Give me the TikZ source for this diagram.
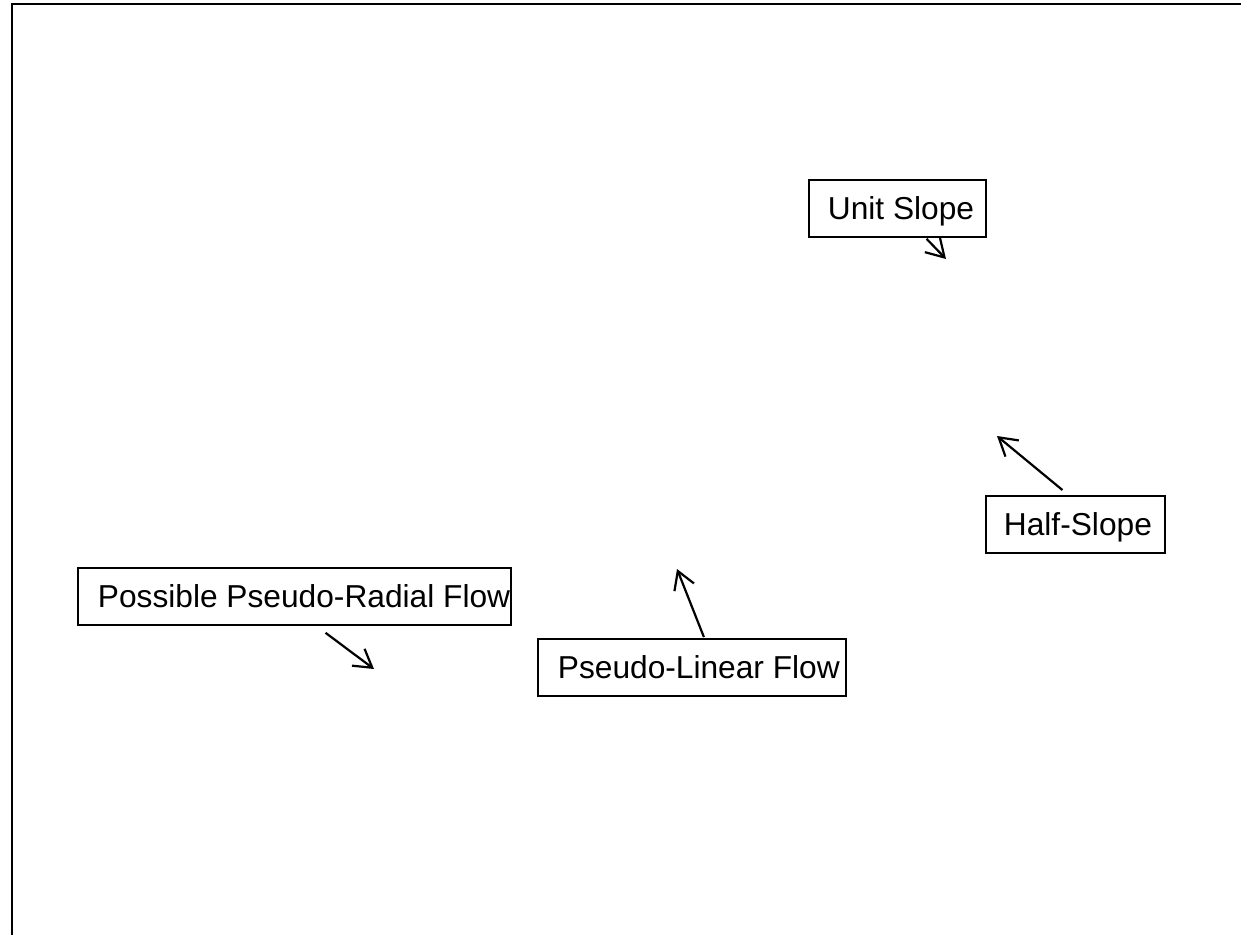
\documentclass[tikz,border=0pt]{standalone}
\usepackage{fontspec}
\setmainfont{Liberation Sans}
\usepackage{tikz}
\usetikzlibrary{arrows.meta}
\usetikzlibrary{positioning}
\tikzset{
	labelbox/.style={rectangle, draw=black, line width=1.8pt, anchor=north west, inner xsep=0pt, inner ysep=0pt, minimum height=57pt, text height=22.7pt, text depth=0pt, font=\fontsize{31.7}{38}\selectfont},
	flowarrow/.style={-{Straight Barb[length=17.5pt, width=21pt, line width=2.2pt]}, line width=2.2pt}
}

\begin{document}
\begin{tikzpicture}[x=1pt, y=-1pt]
		\useasboundingbox (0,0) rectangle (1241,935);
		\draw[line width=2.5pt] (12,935) -- (12,4) -- (1241,4);
		\node[labelbox] at (808,179) (unit)   {\hspace*{19pt}Unit Slope\hspace*{12pt}};
		\node[labelbox] at (985,495) (half)   {\hspace*{18pt}Half-Slope\hspace*{13pt}};
		\node[labelbox] at (77,567)  (radial) {\hspace*{20pt}Possible Pseudo-Radial Flow\hspace*{1pt}};
		\node[labelbox] at (537,638) (linear) {\hspace*{20pt}Pseudo-Linear Flow\hspace*{6pt}};
		\coordinate (unittip)   at (946,259);
		\coordinate (halftip)   at (997,436);
		\coordinate (radialtip) at (374,669);
		\coordinate (lineartip) at (677,569);
		\draw[flowarrow] ([xshift=29pt, yshift=-1pt]unit.south) -- (unittip);
		\draw[flowarrow] ([xshift=-13pt, yshift=5pt]half.north) -- (halftip);
		\draw[flowarrow] ([xshift=31pt, yshift=-7pt]radial.south) -- (radialtip);
		\draw[flowarrow] ([xshift=12pt, yshift=1pt]linear.north) -- (lineartip);
	\end{tikzpicture}
\end{document}
